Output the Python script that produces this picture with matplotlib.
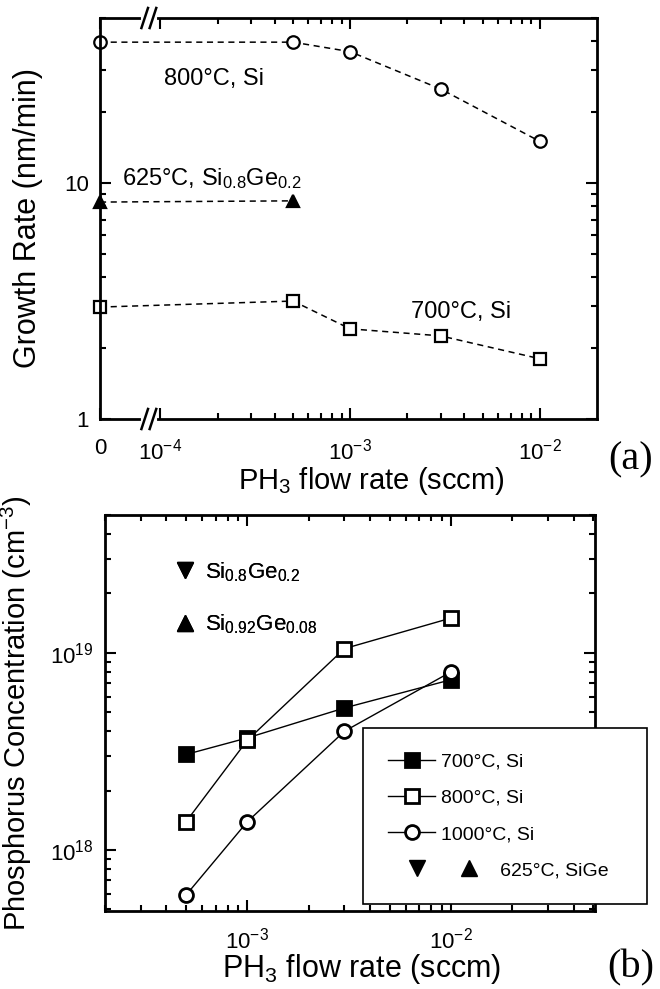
import matplotlib
matplotlib.use('Agg')
import matplotlib.pyplot as plt
from matplotlib.lines import Line2D
from matplotlib.legend_handler import HandlerBase
from matplotlib.ticker import FixedLocator, NullFormatter

plt.rcParams['font.family'] = ['Liberation Sans', 'DejaVu Sans']
plt.rcParams['mathtext.fontset'] = 'custom'
plt.rcParams['mathtext.rm'] = 'Liberation Sans'
plt.rcParams['mathtext.it'] = 'Liberation Sans:italic'
plt.rcParams['mathtext.bf'] = 'Liberation Sans:bold'

# (a) growth rate (nm/min) vs PH3 flow (sccm); flow 0 sits at the broken-axis origin
flow_800 = [0, 5e-4, 1e-3, 3e-3, 1e-2]
rate_800 = [39.5, 39.5, 36, 25, 15]
flow_625 = [0, 5e-4]
rate_625 = [8.3, 8.4]
flow_700 = [0, 5e-4, 1e-3, 3e-3, 1e-2]
rate_700 = [2.98, 3.16, 2.41, 2.25, 1.8]

# (b) phosphorus concentration (cm-3) vs PH3 flow
flow_b = [5e-4, 1e-3, 3e-3, 1e-2]
conc_700 = [3.05e18, 3.7e18, 5.25e18, 7.3e18]
conc_800 = [1.39e18, 3.6e18, 1.05e19, 1.5e19]
conc_1000 = [5.9e17, 1.39e18, 4.0e18, 8.0e18]

ZERO_POS = 4.8e-5   # log-axis position used for flow = 0
BREAK_POS = 8.7e-5  # where the // marks go


def brk(xs):
    return [ZERO_POS if v == 0 else v for v in xs]


def style_axes(ax):
    for s in ax.spines.values():
        s.set_linewidth(2.0)
    ax.tick_params(which='both', direction='in', top=True, right=True,
                   width=1.5, labelsize=16, pad=8)
    ax.tick_params(which='major', length=8)
    ax.tick_params(which='minor', length=4.5)


class TwoTriangles(HandlerBase):
    # down + up triangle, spread out like in the original key
    def create_artists(self, legend, orig_handle, xdescent, ydescent,
                       width, height, fontsize, trans):
        y = height / 2 - ydescent
        a = Line2D([width * 0.62 - xdescent], [y], ls='none', marker='v',
                   color='black', ms=11, transform=trans)
        b = Line2D([width * 1.74 - xdescent], [y], ls='none', marker='^',
                   color='black', ms=11, transform=trans)
        return [a, b]


fig = plt.figure(figsize=(6.6, 9.89), dpi=100)

# ---------------- panel (a) ----------------
ax1 = fig.add_axes([100/660, 1-419/989, 497/660, 401/989])
ax1.set_xscale('log')
ax1.set_yscale('log')

kw = dict(color='black', ls=(0, (4, 3)), lw=1.1, ms=9, mew=1.6, clip_on=False)
ax1.plot(brk(flow_800), rate_800, marker='o', mfc='white', **kw)
ax1.plot(brk(flow_625), rate_625, marker='^', mfc='black', **kw)
ax1.plot(brk(flow_700), rate_700, marker='s', mfc='white', **kw)

ax1.set_xlim(ZERO_POS, 2e-2)
ax1.set_ylim(1, 50)
style_axes(ax1)
ax1.tick_params(axis='x', pad=14)
ax1.xaxis.set_major_locator(FixedLocator([ZERO_POS, 1e-4, 1e-3, 1e-2]))
ax1.set_xticklabels(['0', '$10^{-4}$', '$10^{-3}$', '$10^{-2}$'])
minors = [m * 10.0**e for e in (-4, -3, -2) for m in range(2, 10) if m * 10.0**e < 2e-2]
ax1.xaxis.set_minor_locator(FixedLocator(minors))
ax1.xaxis.set_minor_formatter(NullFormatter())
ax1.yaxis.set_major_locator(FixedLocator([1, 10]))
ax1.set_yticklabels(['1', '10'])
ax1.yaxis.set_minor_formatter(NullFormatter())

ax1.set_xlabel('PH$_3$ flow rate (sccm)', fontsize=21)
ax1.set_ylabel('Growth Rate (nm/min)', fontsize=22)
ax1.xaxis.set_label_coords(0.547, -0.115)
ax1.yaxis.set_label_coords(-0.115, 0.5)

ax1.text(1.05e-4, 26, '800°C, Si', fontsize=17)
ax1.text(6.3e-5, 9.8, '625°C, Si$_{0.8}$Ge$_{0.2}$', fontsize=17)
ax1.text(2.1e-3, 2.68, '700°C, Si', fontsize=17)

# axis break marks on bottom and top spines
bt = ax1.get_xaxis_transform()
for yb in (0, 1):
    ax1.plot([BREAK_POS*0.93, BREAK_POS*1.07], [yb, yb], color='white', lw=3,
             transform=bt, clip_on=False, zorder=5)
    for dx in (0.95, 1.05):
        xc = BREAK_POS * dx
        ax1.plot([xc*0.96, xc*1.04], [yb-0.025, yb+0.025], color='black', lw=1.8,
                 transform=bt, clip_on=False, zorder=6)

fig.text(631/660, 1-460/989, '(a)', fontsize=29, family='Liberation Serif',
         ha='center', va='center')

# ---------------- panel (b) ----------------
ax2 = fig.add_axes([105/660, 1-911/989, 490/660, 396/989])
ax2.set_xscale('log')
ax2.set_yscale('log')

kb = dict(color='black', lw=1.0, ms=10, mew=2.0)
h700, = ax2.plot(flow_b, conc_700, marker='s', mfc='black', **kb)
h800, = ax2.plot(flow_b, conc_800, marker='s', mfc='white', **kb)
h1000, = ax2.plot(flow_b, conc_1000, marker='o', mfc='white', **kb)

ax2.set_xlim(2e-4, 5.1e-2)
ax2.set_ylim(4.9e17, 5e19)
style_axes(ax2)
ax2.tick_params(axis='x', pad=12)
ax2.xaxis.set_major_locator(FixedLocator([1e-3, 1e-2]))
ax2.set_xticklabels(['$10^{-3}$', '$10^{-2}$'])
ax2.xaxis.set_minor_formatter(NullFormatter())
ax2.yaxis.set_major_locator(FixedLocator([1e18, 1e19]))
ax2.set_yticklabels(['$10^{18}$', '$10^{19}$'])
ax2.yaxis.set_minor_formatter(NullFormatter())

ax2.set_xlabel('PH$_3$ flow rate (sccm)', fontsize=22)
ax2.set_ylabel('Phosphorus Concentration (cm$^{-3}$)', fontsize=21)
ax2.xaxis.set_label_coords(0.524, -0.103)
ax2.yaxis.set_label_coords(-0.145, 0.5)

# composition key (upper left)
dn = Line2D([], [], ls='none', marker='v', color='black', ms=11)
up = Line2D([], [], ls='none', marker='^', color='black', ms=11)
leg1 = ax2.legend([dn, up], ['Si$_{0.8}$Ge$_{0.2}$', 'Si$_{0.92}$Ge$_{0.08}$'],
                  loc='upper left', bbox_to_anchor=(0.127, 0.909), borderaxespad=0,
                  frameon=False, fontsize=16, handlelength=0.8, handletextpad=0.5,
                  labelspacing=1.3)
ax2.add_artist(leg1)

# main legend box (sticks out past the right spine)
sige = object()
leg2 = fig.legend([h700, h800, h1000, sige],
                  ['700°C, Si', '800°C, Si', '1000°C, Si',
                   '           625°C, SiGe'],
                  handler_map={sige: TwoTriangles()},
                  loc='upper left', bbox_to_anchor=(363/660, 1-728/989, 284/660, 0.0),
                  mode='expand', borderaxespad=0, fontsize=14, handlelength=2.4,
                  handletextpad=0.3, labelspacing=0.95, borderpad=1.3,
                  fancybox=False, framealpha=1)
leg2.get_frame().set_edgecolor('black')
leg2.get_frame().set_linewidth(1.2)

fig.text(631/660, 1-968/989, '(b)', fontsize=29, family='Liberation Serif',
         ha='center', va='center')

fig.savefig('out.png', dpi=100)
